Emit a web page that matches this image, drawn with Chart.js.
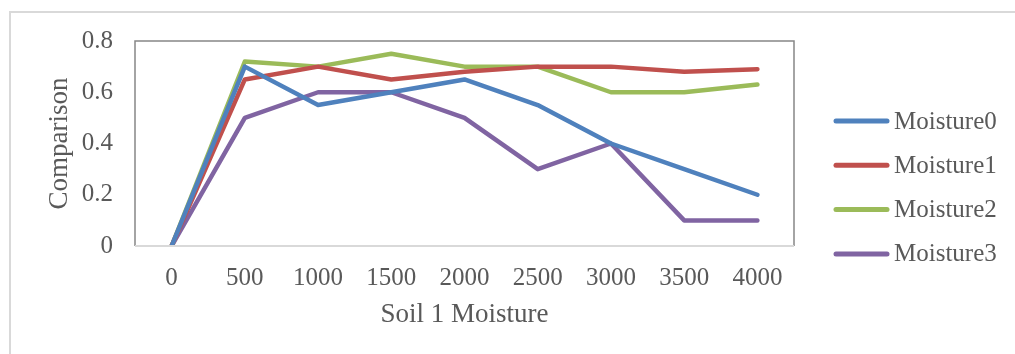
<!DOCTYPE html>
<html>
<head>
<meta charset="utf-8">
<script src="https://cdn.jsdelivr.net/npm/chart.js@4"></script>
<style>
  html, body { margin: 0; padding: 0; background: #fff; overflow: hidden; }
  #wrap { position: relative; width: 1015px; height: 354px; }
  #frame {
    position: absolute; left: 9px; top: 11px; width: 1200px; height: 500px;
    border-left: 2px solid #d9d9d9; border-top: 2px solid #d9d9d9;
  }
  canvas { position: absolute; left: 0; top: 0; }
</style>
</head>
<body>
<div id="wrap">
  <div id="frame"></div>
  <canvas id="moistureChart" width="1015" height="354"></canvas>
</div>
<script>
// soil 1 moisture readings
const categories = ["0", "500", "1000", "1500", "2000", "2500", "3000", "3500", "4000"];
const moisture0 = [0, 0.70, 0.55, 0.60, 0.65, 0.55, 0.40, 0.30, 0.20];
const moisture1 = [0, 0.65, 0.70, 0.65, 0.68, 0.70, 0.70, 0.68, 0.69];
const moisture2 = [0, 0.72, 0.70, 0.75, 0.70, 0.70, 0.60, 0.60, 0.63];
const moisture3 = [0, 0.50, 0.60, 0.60, 0.50, 0.30, 0.40, 0.10, 0.10];
const seriesNames = ["Moisture0", "Moisture1", "Moisture2", "Moisture3"];
const yTicks = [0, 0.2, 0.4, 0.6, 0.8];

window.seriesColors = ["#4F81BD", "#C0504D", "#9BBB59", "#8064A2"];

const textColor = "#595959";
const fontFamily = "'Liberation Serif', 'Times New Roman', serif";

// plot frame: dark on left/top/right, light axis line at the bottom
const plotFrame = {
    id: "plotFrame",
    afterDatasetsDraw(chart) {
        const a = chart.chartArea;
        const ctx = chart.ctx;
        ctx.save();
        ctx.strokeStyle = "#868686";
        ctx.lineWidth = 1.5;
        ctx.beginPath();
        ctx.moveTo(a.left, a.bottom);
        ctx.lineTo(a.left, a.top);
        ctx.lineTo(a.right, a.top);
        ctx.lineTo(a.right, a.bottom);
        ctx.stroke();
        ctx.strokeStyle = "#d9d9d9";
        ctx.lineWidth = 2;
        ctx.beginPath();
        ctx.moveTo(a.left, a.bottom);
        ctx.lineTo(a.right, a.bottom);
        ctx.stroke();
        ctx.restore();
    }
};

// legend on the right, one line sample per series
const sideLegend = {
    id: "sideLegend",
    afterDraw(chart) {
        const a = chart.chartArea;
        const ctx = chart.ctx;
        ctx.save();
        ctx.font = "25px " + fontFamily;
        ctx.textBaseline = "middle";
        ctx.lineCap = "round";
        chart.data.datasets.forEach(function (ds, i) {
            const y = 121 + i * 44.3;
            const x0 = a.right + 40;
            ctx.strokeStyle = ds.borderColor;
            ctx.lineWidth = 5;
            ctx.beginPath();
            ctx.moveTo(x0 + 2, y);
            ctx.lineTo(x0 + 53, y);
            ctx.stroke();
            ctx.fillStyle = textColor;
            ctx.fillText(ds.label, x0 + 60, y + 1);
        });
        ctx.restore();
    }
};

const seriesData = [moisture0, moisture1, moisture2, moisture3];

new Chart(document.getElementById("moistureChart").getContext("2d"), {
    type: "line",
    data: {
        labels: categories,
        datasets: seriesData.map(function (values, i) {
            return {
                label: seriesNames[i],
                data: values,
                borderColor: window.seriesColors[i],
                backgroundColor: window.seriesColors[i],
                borderWidth: 4.5,
                borderCapStyle: "round",
                borderJoinStyle: "round",
                pointRadius: 0,
                tension: 0,
                fill: false,
            };
        }),
    },
    options: {
        responsive: false,
        animation: false,
        layout: { padding: { left: 0, right: 221, top: 41, bottom: 0 } },
        plugins: {
            legend: { display: false },
            tooltip: { enabled: false },
        },
        scales: {
            x: {
                offset: true,
                grid: { display: false, drawTicks: false },
                border: { display: false },
                ticks: {
                    color: textColor,
                    padding: 17,
                    font: { family: fontFamily, size: 25 },
                    maxRotation: 0,
                },
                title: {
                    display: true,
                    text: "Soil 1 Moisture",
                    color: textColor,
                    font: { family: fontFamily, size: 27 },
                    padding: { top: 0, bottom: 23 },
                },
                afterFit(scale) { scale.height = 108; },
            },
            y: {
                min: 0,
                max: 0.8,
                grid: { display: false, drawTicks: false },
                border: { display: false },
                afterBuildTicks(scale) {
                    scale.ticks = yTicks.map(function (v) { return { value: v }; });
                },
                ticks: {
                    color: textColor,
                    padding: 22,
                    font: { family: fontFamily, size: 25 },
                    callback: function (v) { return String(v); },
                },
                title: {
                    display: true,
                    text: "Comparison",
                    color: textColor,
                    font: { family: fontFamily, size: 27 },
                    padding: { top: 44, bottom: 0 },
                },
                afterFit(scale) { scale.width = 135; },
            },
        },
    },
    plugins: [plotFrame, sideLegend],
});
</script>
</body>
</html>
